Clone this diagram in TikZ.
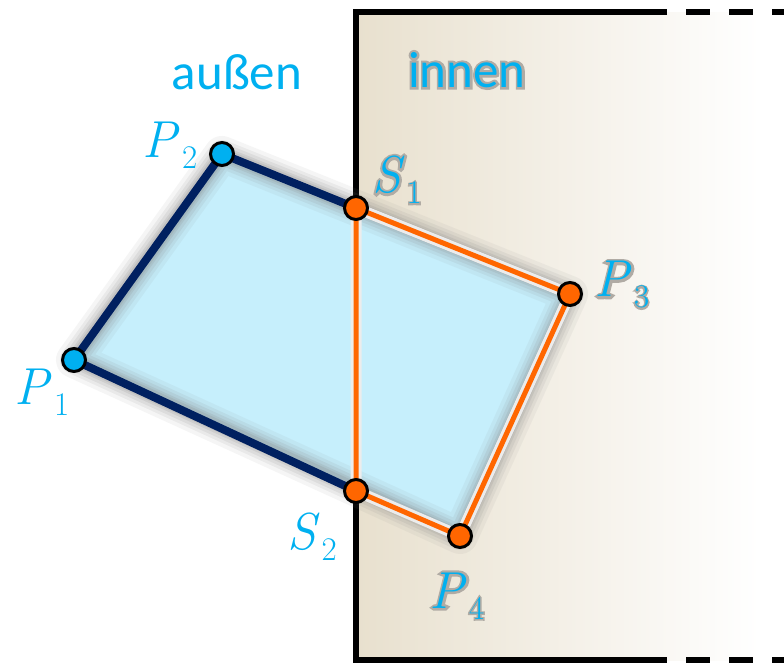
\documentclass[tikz,border=0pt]{standalone}
\usepackage{fontspec}
\setsansfont{Carlito}
\newfontfamily\sansglow[FakeBold=9]{Carlito}
\newfontfamily\serifglow[FakeBold=9]{Latin Modern Roman}
\usepackage{xcolor}
\usepackage{tikz}
\usetikzlibrary{calc}

\definecolor{ptcyan}{HTML}{00B0F0}
\definecolor{edgenavy}{HTML}{002060}
\definecolor{edgeorange}{HTML}{FF6600}
\definecolor{areacyan}{HTML}{C6EFFC}
\definecolor{wallbeige}{HTML}{E8E0CE}
\definecolor{glowgray}{HTML}{B0ABA4}

% point name with subscript
\newcommand{\ptname}[2]{\textit{#1}\kern1pt\raisebox{-5.5pt}{\fontsize{16.5}{18}\selectfont #2}}
% grey rim behind a text
\newcommand{\glowed}[2]{\leavevmode\rlap{\color{glowgray}#1#2}#2}

\begin{document}
\begin{tikzpicture}[
  x=0.5pt, y=-0.5pt,
  vertex/.style={circle, draw=black, line width=1.5pt, minimum size=11.5pt, inner sep=0pt},
  outpt/.style={vertex, fill=ptcyan},
  inpt/.style={vertex, fill=edgeorange},
  ptlabel/.style={text=ptcyan, font=\fontsize{26}{30}\selectfont, inner sep=0pt},
  region/.style={text=ptcyan, font=\sffamily\fontsize{25.5}{30}\selectfont, inner sep=0pt},
  wall/.style={line width=2.7pt, black},
  navyedge/.style={line width=4pt, edgenavy, line cap=round, line join=round},
  orangeedge/.style={line width=2.5pt, edgeorange, line cap=round, line join=round},
  halo/.style={line width=5.5pt, white!85!gray, line cap=round, line join=round}
]
\useasboundingbox (0,0) rectangle (784,664);

% polygon corners and cut points
\coordinate (p1) at (74,360);
\coordinate (p2) at (222,154);
\coordinate (p3) at (570,294);
\coordinate (p4) at (460,536);
\coordinate (s1) at (356,208);
\coordinate (s2) at (356,491);

% wall
\coordinate (wtl) at (356,12);
\coordinate (wbl) at (356,660);
\coordinate (wtm) at (667,12);
\coordinate (wbm) at (667,660);
\coordinate (wtr) at (784,12);
\coordinate (wbr) at (784,660);
\shade[left color=wallbeige, right color=white] (wtl) rectangle (760,660);
\draw[wall] (wtm) -- (wtl) -- (wbl) -- (wbm);
\draw[wall, dash pattern=on 12pt off 9.5pt, dash phase=12pt] (wtm) -- (wtr);
\draw[wall, dash pattern=on 12pt off 9.5pt, dash phase=12pt] (wbm) -- (wbr);

% polygon area with soft shadow
\fill[areacyan] (p1) -- (p2) -- (p3) -- (p4) -- cycle;
\foreach \w/\o in {18pt/0.08, 14pt/0.1, 11pt/0.12, 8pt/0.15, 6pt/0.18}
  \draw[gray, line width=\w, opacity=\o, line join=round] (p1) -- (p2) -- (p3) -- (p4) -- cycle;
\draw[gray, line width=4pt, opacity=0.2] (s1) -- (s2);

% clipped part (inside)
\draw[halo] (s1) -- (p3) -- (p4) -- (s2) -- cycle;
\draw[orangeedge] (s1) -- (p3) -- (p4) -- (s2) -- cycle;
% remaining part (outside)
\draw[navyedge] (s1) -- (p2) -- (p1) -- (s2);

% points
\node[outpt] (n1) at (p1) {};
\node[outpt] (n2) at (p2) {};
\node[inpt] (n3) at (p3) {};
\node[inpt] (n4) at (p4) {};
\node[inpt] (m1) at (s1) {};
\node[inpt] (m2) at (s2) {};

% labels
\node[ptlabel] (l1) at (42,392) {\ptname{P}{1}};
\node[ptlabel] (l2) at (170,145) {\ptname{P}{2}};
\node[ptlabel] (l3) at (622,285) {\glowed{\serifglow}{\ptname{P}{3}}};
\node[ptlabel] (l4) at (457,596) {\glowed{\serifglow}{\ptname{P}{4}}};
\node[ptlabel] (k1) at (397,180) {\glowed{\serifglow}{\ptname{S}{1}}};
\node[ptlabel] (k2) at (312,537) {\ptname{S}{2}};
\node[region] (out) at (237,72) {außen};
\node[region] (in) at (467,70) {\glowed{\sansglow}{innen}};
\end{tikzpicture}
\end{document}
